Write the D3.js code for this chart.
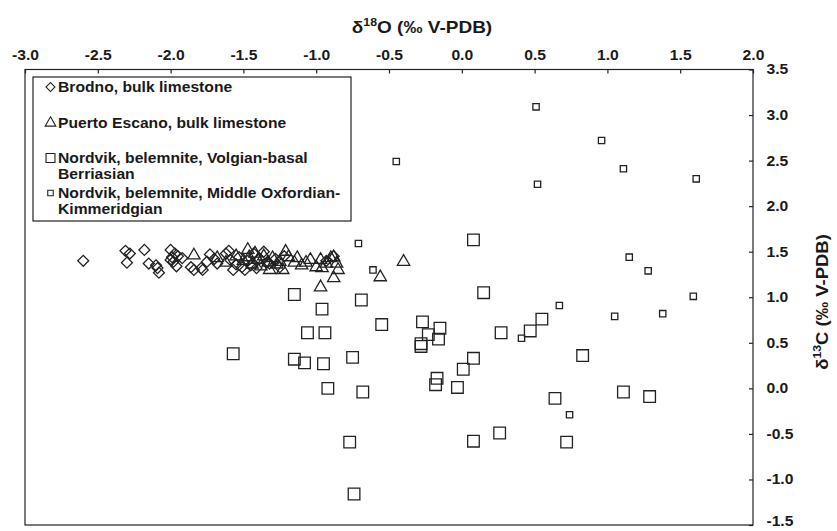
<!DOCTYPE html>
<html>
<head>
<meta charset="utf-8">
<script src="https://cdn.jsdelivr.net/npm/d3@7"></script>
<style>
  body { margin: 0; background: #fff; }
  text { font-family: "Liberation Sans", Arial, sans-serif; font-weight: bold; fill: #1a1a1a; }
</style>
</head>
<body>
<div id="chart"></div>
<script>
// δ18O / δ13C pairs
const brodno = [
    [-2.60,1.40],[-2.31,1.51],[-2.28,1.48],[-2.30,1.38],[-2.18,1.52],[-2.15,1.37],[-2.10,1.35],[-2.09,1.32],[-2.08,1.27],
    [-2.00,1.52],[-1.97,1.48],[-2.00,1.41],[-1.98,1.39],[-1.96,1.34],[-1.99,1.44],[-1.95,1.45],[-1.92,1.43],
    [-1.86,1.33],[-1.84,1.30],[-1.79,1.32],[-1.78,1.30],[-1.75,1.39],[-1.73,1.47],[-1.70,1.42],[-1.68,1.37],
    [-1.62,1.48],[-1.60,1.51],[-1.59,1.41],[-1.57,1.30],[-1.55,1.36],[-1.53,1.44],[-1.51,1.33],[-1.49,1.30],
    [-1.47,1.40],[-1.45,1.35],[-1.43,1.48],[-1.41,1.32],[-1.39,1.42],[-1.36,1.50],[-1.34,1.38],[-1.32,1.37],
    [-1.28,1.42],[-1.25,1.33],[-1.22,1.45],[-0.88,1.45],[-0.93,1.40]
];
const puertoEscano = [
    [-1.84,1.46],[-1.68,1.43],[-1.62,1.38],[-1.55,1.45],[-1.50,1.40],[-1.47,1.52],[-1.46,1.44],[-1.44,1.36],
    [-1.42,1.48],[-1.40,1.41],[-1.38,1.34],[-1.36,1.45],[-1.33,1.38],[-1.32,1.30],[-1.30,1.43],[-1.27,1.36],
    [-1.25,1.39],[-1.23,1.30],[-1.21,1.50],[-1.19,1.44],[-1.15,1.38],[-1.13,1.43],[-1.10,1.35],[-1.07,1.38],
    [-1.04,1.41],[-1.00,1.33],[-0.97,1.41],[-0.96,1.32],[-0.93,1.37],[-0.90,1.43],[-0.88,1.44],[-0.86,1.37],
    [-0.85,1.30],[-0.88,1.21],[-0.97,1.11],[-0.56,1.22],[-0.40,1.39]
];
const nordvikVolgian = [
    [-1.57,0.38],[-1.15,1.03],[-0.96,0.87],[-1.06,0.61],[-0.94,0.61],[-1.15,0.32],[-1.08,0.28],[-0.95,0.27],
    [-0.75,0.34],[-0.92,0.00],[-0.69,0.97],[-0.55,0.70],[-0.68,-0.04],[-0.77,-0.59],[-0.74,-1.16],
    [0.08,1.63],[0.15,1.05],[-0.27,0.73],[-0.15,0.66],[-0.23,0.59],[-0.16,0.54],[-0.28,0.49],[-0.28,0.46],
    [0.27,0.61],[0.47,0.63],[0.55,0.76],[0.08,0.33],[0.01,0.21],[-0.17,0.11],[-0.18,0.04],[-0.03,0.01],
    [0.08,-0.58],[0.26,-0.49],[0.83,0.36],[0.64,-0.11],[1.11,-0.04],[1.29,-0.09],[0.72,-0.59]
];
const nordvikOxfordian = [
    [0.51,3.09],[0.96,2.72],[1.11,2.41],[0.52,2.24],[1.61,2.30],[-0.45,2.49],[-0.71,1.59],[-0.61,1.30],
    [1.15,1.44],[1.28,1.29],[1.59,1.01],[0.67,0.91],[1.05,0.79],[1.38,0.82],[0.41,0.55],[0.74,-0.29]
];
const xTicks = [-3.0, -2.5, -2.0, -1.5, -1.0, -0.5, 0.0, 0.5, 1.0, 1.5, 2.0];
const yTicks = [3.5, 3.0, 2.5, 2.0, 1.5, 1.0, 0.5, 0.0, -0.5, -1.0, -1.5];
const legendLabels = [
    ['Brodno, bulk limestone'],
    ['Puerto Escano, bulk limestone'],
    ['Nordvik, belemnite, Volgian-basal', 'Berriasian'],
    ['Nordvik, belemnite, Middle Oxfordian-', 'Kimmeridgian']
];

const width = 837, height = 531;
const plot = {left: 25, right: 753, top: 69.5, bottom: 525};
const ink = '#222';
const stretch = 1.12; // glyphs in the figure are slightly wide

const svg = d3.select('#chart').append('svg')
    .attr('width', width)
    .attr('height', height);

const x = d3.scaleLinear().domain([-3, 2]).range([plot.left, plot.right]);
const y = d3.scaleLinear().domain([-1.5, 3.5]).range([plot.bottom, plot.top]);

// cadre
svg.append('rect')
    .attr('x', plot.left).attr('y', plot.top)
    .attr('width', plot.right - plot.left)
    .attr('height', plot.bottom - plot.top)
    .attr('fill', 'none')
    .attr('stroke', ink)
    .attr('stroke-width', 1.2);

// axe du haut
const xAxis = svg.append('g')
    .attr('transform', `translate(0, ${plot.top})`)
    .call(d3.axisTop(x).tickValues(xTicks).tickSizeInner(-4).tickSizeOuter(0).tickPadding(10)
        .tickFormat(d => d.toFixed(1)));
xAxis.select('.domain').remove();
xAxis.selectAll('line').attr('stroke', ink).attr('stroke-width', 1.2);
xAxis.selectAll('text')
    .attr('font-size', 14)
    .attr('font-family', null)
    .attr('fill', '#1a1a1a')
    .attr('transform', `scale(${stretch},1)`);

// axe de droite
const yAxis = svg.append('g')
    .attr('transform', `translate(${plot.right}, 0)`)
    .call(d3.axisRight(y).tickValues(yTicks).tickSizeInner(-4).tickSizeOuter(0).tickPadding(12)
        .tickFormat(d => d.toFixed(1)));
yAxis.select('.domain').remove();
yAxis.selectAll('line').attr('stroke', ink).attr('stroke-width', 1.2);
yAxis.selectAll('text')
    .attr('font-size', 14)
    .attr('font-family', null)
    .attr('fill', '#1a1a1a')
    .attr('transform', `scale(${stretch},1)`);
// le dernier libellé touche le bas de l'image : on le remonte un peu
yAxis.selectAll('.tick text')
    .filter(d => d === -1.5)
    .attr('dy', '0.05em');

// titres
const xTitle = svg.append('text')
    .attr('transform', `translate(422, 33) scale(${stretch},1)`)
    .attr('text-anchor', 'middle')
    .attr('font-size', 17);
xTitle.append('tspan').text('δ');
xTitle.append('tspan').attr('font-size', 11).attr('dy', -7).text('18');
xTitle.append('tspan').attr('dy', 7).text('O (‰ V-PDB)');

const yTitle = svg.append('text')
    .attr('transform', `translate(828, 302) rotate(-90) scale(${stretch},1)`)
    .attr('text-anchor', 'middle')
    .attr('font-size', 16.5);
yTitle.append('tspan').text('δ');
yTitle.append('tspan').attr('font-size', 11).attr('dy', -7).text('13');
yTitle.append('tspan').attr('dy', 7).text('C (‰ V-PDB)');

// symboles
const diamond = d3.symbol().type(d3.symbolSquare).size(60);
const triangle = d3.symbol().type(d3.symbolTriangle).size(66);
const bigSquare = d3.symbol().type(d3.symbolSquare).size(135);
const smallSquare = d3.symbol().type(d3.symbolSquare).size(40);

const series = [
    {data: brodno, path: diamond(), rotate: 45},
    {data: puertoEscano, path: triangle(), rotate: 0},
    {data: nordvikVolgian, path: bigSquare(), rotate: 0},
    {data: nordvikOxfordian, path: smallSquare(), rotate: 0}
];

series.forEach(s => {
    svg.append('g').selectAll('path')
        .data(s.data)
        .join('path')
        .attr('d', s.path)
        .attr('transform', d => `translate(${x(d[0])}, ${y(d[1])}) rotate(${s.rotate})`)
        .attr('fill', 'none')
        .attr('stroke', ink)
        .attr('stroke-width', 1.3);
});

// légende
const legend = svg.append('g');
legend.append('rect')
    .attr('x', 33).attr('y', 77)
    .attr('width', 318).attr('height', 144)
    .attr('fill', '#fff')
    .attr('stroke', ink)
    .attr('stroke-width', 1.2);

const legendSymbols = [
    d3.symbol().type(d3.symbolSquare).size(40)(),
    d3.symbol().type(d3.symbolTriangle).size(50)(),
    d3.symbol().type(d3.symbolSquare).size(80)(),
    d3.symbol().type(d3.symbolSquare).size(30)()
];
const legendRows = [87, 123, 158, 193];
const legendRot = [45, 0, 0, 0];

legendLabels.forEach((lines, i) => {
    legend.append('path')
        .attr('d', legendSymbols[i])
        .attr('transform', `translate(50.5, ${legendRows[i]}) rotate(${legendRot[i]})`)
        .attr('fill', 'none')
        .attr('stroke', ink)
        .attr('stroke-width', 1.1);
    lines.forEach((line, j) => {
        legend.append('text')
            .attr('transform', `translate(58, ${legendRows[i] + 5 + j * 16}) scale(${stretch},1)`)
            .attr('font-size', 14)
            .text(line);
    });
});
</script>
</body>
</html>
